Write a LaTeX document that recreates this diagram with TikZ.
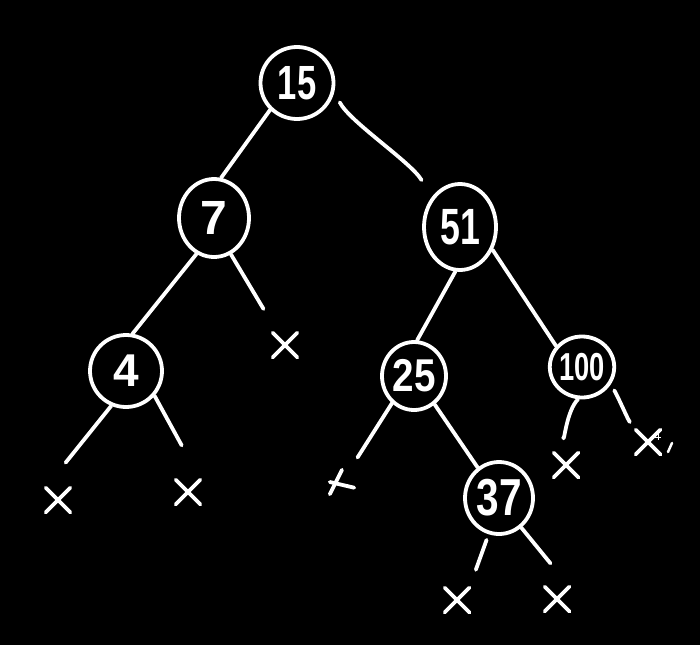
\documentclass[tikz,border=0pt]{standalone}
\usepackage{fontspec}
\setmainfont{Liberation Sans}
\usetikzlibrary{shapes.geometric,shapes.misc}
\newcommand\dg[3]{\scalebox{#2}[1]{\fontsize{#1}{#1}\selectfont\bfseries #3}}
\begin{document}
\begin{tikzpicture}[x=1pt,y=-1pt,
  ink/.style={draw=white, line width=3.8pt, line cap=round, line join=round},
  keynode/.style={ink, ellipse, inner sep=0pt, text=white},
  leaf/.style={ink, cross out, inner sep=0pt, minimum size=21pt},
  blank/.style={inner sep=0pt, minimum size=24pt},
  link/.style={ink}]
\fill[black] (0,0) rectangle (700,645);
\useasboundingbox (0,0) rectangle (700,645);
% keys
\node[keynode, minimum width=73pt, minimum height=72pt] (n15) at (297,83) {\dg{48}{0.72}{15}};
\node[keynode, minimum width=70pt, minimum height=78pt] (n7) at (214,218) {\dg{48}{1}{7}};
\node[keynode, minimum width=72pt, minimum height=86pt] (n51) at (460,227) {\dg{51}{0.7}{51}};
\node[keynode, minimum width=72pt, minimum height=72pt] (n4) at (126,371) {\dg{46}{1}{4}};
\node[keynode, minimum width=64pt, minimum height=68pt] (n25) at (414,376) {\dg{46}{0.84}{25}};
\node[keynode, minimum width=62pt, minimum height=61pt] (n100) at (582,367) {\dg{39}{0.7}{100}};
\node[keynode, minimum width=68pt, minimum height=72pt] (n37) at (499,498) {\dg{52}{0.78}{37}};
% leaves
\node[leaf] (x7) at (285,345) {};
\node[leaf] (x4a) at (58,500) {};
\node[leaf] (x4b) at (188,492) {};
\node[blank] (x25) at (342,482) {};
\node[leaf] (x100a) at (566,465) {};
\node[leaf] (x100b) at (648,442) {};
\node[leaf] (x37a) at (457,600) {};
\node[leaf] (x37b) at (557,599) {};
\draw[ink] (x25.south west) -- (x25.north);
\draw[ink] (x25.west) -- (x25.-25);
% small marks near the last cross
\draw[white, line width=1pt] (655,437) -- (661,437) (658,434) -- (658,440);
\draw[ink, line width=2.5pt] (672,443) -- (668,452);
% connectors
\draw[link] (n15.225) -- (n7.80);
\draw[link, shorten <=12pt, shorten >=20pt] (n15.-13) .. controls +(15,30) and +(-20,-35) .. (n51.134);
\draw[link] (n7.244) -- (n4.80);
\draw[link, shorten >=42pt] (n7.295) -- (x7.center);
\draw[link, shorten >=32pt] (n4.247) -- (x4a.north west);
\draw[link, shorten >=39pt] (n4.-41) -- (x4b.north east);
\draw[link] (n51.264) -- (n25.85);
\draw[link] (n51.-35) -- (n100.141);
\draw[link, shorten >=29pt] (n25.231) -- (x25.center);
\draw[link] (n25.-54) -- (n37.125);
\draw[link, shorten >=28pt] (n100.263) .. controls +(-12,12) and +(-2,-20) .. (x100a.center);
\draw[link, shorten <=7pt, shorten >=27pt] (n100.-31) .. controls +(8,14) and +(-20,-22) .. (x100b.center);
\draw[link, shorten <=6pt, shorten >=19pt] (n37.254) -- (x37a.north east);
\draw[link, shorten >=30pt] (n37.-53) -- (x37b.north east);
\end{tikzpicture}
\end{document}
